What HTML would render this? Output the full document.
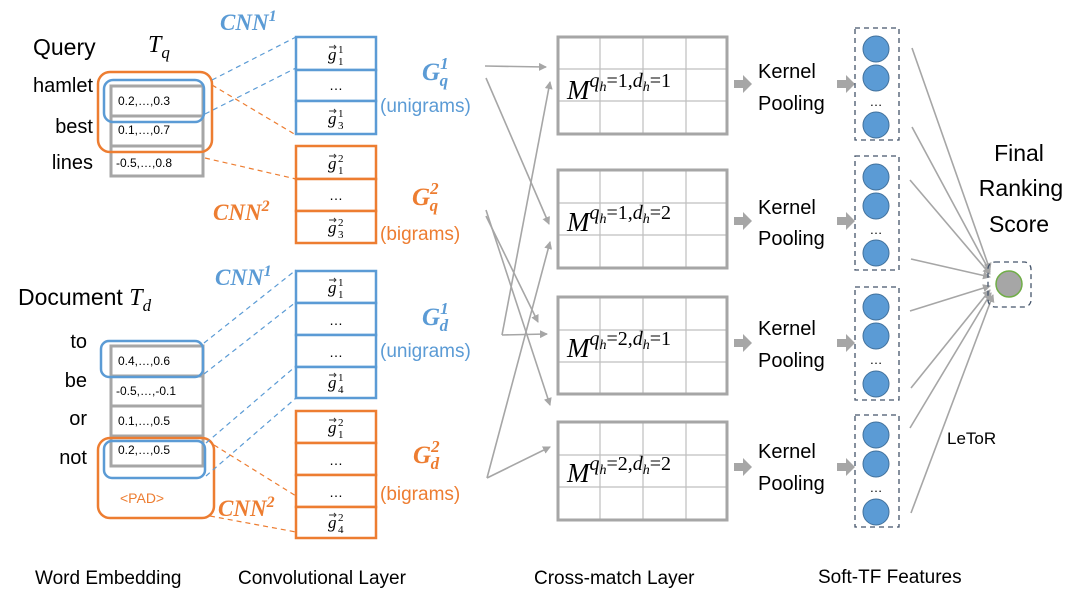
<!DOCTYPE html>
<html><head><meta charset="utf-8"><style>
html,body{margin:0;padding:0;background:#fff}
svg{display:block}
text{font-family:"Liberation Sans",sans-serif}
text.s,.s text{font-family:"Liberation Serif",serif;font-style:italic}
text.b,.b text{font-family:"Liberation Serif",serif;font-style:italic;font-weight:bold}
</style></head><body>
<svg width="1080" height="594" viewBox="0 0 1080 594" xmlns="http://www.w3.org/2000/svg">
<defs>
<marker id="a" markerWidth="8" markerHeight="8" refX="7" refY="4" orient="auto" markerUnits="userSpaceOnUse"><path d="M0,0 L8,4 L0,8 z" fill="#a6a6a6"/></marker>
</defs>

<text x="33" y="55" font-size="23">Query</text>
<text x="148" y="52" font-size="24" class="s">T<tspan font-size="17" dy="6">q</tspan></text>
<g font-size="20" text-anchor="end">
<text x="93" y="92">hamlet</text><text x="93" y="133">best</text><text x="93" y="169">lines</text>
</g>
<g fill="none" stroke="#a6a6a6" stroke-width="3">
<rect x="111" y="86" width="92" height="30"/><rect x="111" y="116" width="92" height="30"/><rect x="111" y="146" width="92" height="30"/>
</g>
<g font-size="12"><text x="118" y="105">0.2,…,0.3</text><text x="118" y="134">0.1,…,0.7</text><text x="116" y="167">-0.5,…,0.8</text></g>
<rect x="98" y="72" width="114" height="80" rx="12" fill="none" stroke="#ed7d31" stroke-width="2.5"/>
<rect x="104" y="80" width="100" height="42" rx="9" fill="none" stroke="#5b9bd5" stroke-width="2.5"/>

<g stroke-dasharray="5,4" stroke-width="1.2" fill="none">
<line x1="212" y1="80" x2="296" y2="37" stroke="#5b9bd5"/>
<line x1="205" y1="114" x2="296" y2="68" stroke="#5b9bd5"/>
<line x1="212" y1="85" x2="296" y2="135" stroke="#ed7d31"/>
<line x1="205" y1="158" x2="296" y2="179" stroke="#ed7d31"/>
</g>

<text x="220" y="30" font-size="23" class="b" fill="#5b9bd5">CNN<tspan font-size="16" dy="-9">1</tspan></text>
<g fill="#fff" stroke="#5b9bd5" stroke-width="2.5">
<rect x="296" y="37" width="80" height="33"/><rect x="296" y="70" width="80" height="31"/><rect x="296" y="101" width="80" height="33"/>
</g>
<text x="213" y="220" font-size="23" class="b" fill="#ed7d31">CNN<tspan font-size="16" dy="-9">2</tspan></text>
<g fill="#fff" stroke="#ed7d31" stroke-width="2.5">
<rect x="296" y="146" width="80" height="33"/><rect x="296" y="179" width="80" height="32"/><rect x="296" y="211" width="80" height="32"/>
</g>

<text x="18" y="305" font-size="23">Document <tspan font-family="Liberation Serif" font-style="italic" font-size="24">T</tspan><tspan font-family="Liberation Serif" font-style="italic" font-size="17" dy="6">d</tspan></text>
<g font-size="20" text-anchor="end">
<text x="87" y="348">to</text><text x="87" y="387">be</text><text x="87" y="425">or</text><text x="87" y="464">not</text>
</g>
<g fill="none" stroke="#a6a6a6" stroke-width="3">
<rect x="111" y="346" width="92" height="30"/><rect x="111" y="376" width="92" height="30"/><rect x="111" y="406" width="92" height="30"/><rect x="111" y="436" width="92" height="30"/>
</g>
<g font-size="12"><text x="118" y="365">0.4,…,0.6</text><text x="116" y="395">-0.5,…,-0.1</text><text x="118" y="425">0.1,…,0.5</text><text x="118" y="454">0.2,…,0.5</text></g>
<rect x="98" y="438" width="116" height="80" rx="12" fill="none" stroke="#ed7d31" stroke-width="2.5"/>
<rect x="101" y="341" width="102" height="36" rx="8" fill="none" stroke="#5b9bd5" stroke-width="2.5"/>
<rect x="104" y="441" width="101" height="37" rx="8" fill="none" stroke="#5b9bd5" stroke-width="2.5"/>
<text x="120" y="503" font-size="14" fill="#ed7d31">&lt;PAD&gt;</text>

<g stroke-dasharray="5,4" stroke-width="1.2" fill="none">
<line x1="204" y1="343" x2="296" y2="270" stroke="#5b9bd5"/>
<line x1="204" y1="374" x2="296" y2="302" stroke="#5b9bd5"/>
<line x1="206" y1="443" x2="296" y2="366" stroke="#5b9bd5"/>
<line x1="206" y1="476" x2="296" y2="398" stroke="#5b9bd5"/>
<line x1="214" y1="445" x2="296" y2="496" stroke="#ed7d31"/>
<line x1="210" y1="516" x2="296" y2="532" stroke="#ed7d31"/>
</g>

<text x="215" y="285" font-size="23" class="b" fill="#5b9bd5">CNN<tspan font-size="16" dy="-9">1</tspan></text>
<g fill="#fff" stroke="#5b9bd5" stroke-width="2.5">
<rect x="296" y="271" width="80" height="32"/><rect x="296" y="303" width="80" height="32"/><rect x="296" y="335" width="80" height="32"/><rect x="296" y="367" width="80" height="31"/>
</g>
<text x="218" y="516" font-size="23" class="b" fill="#ed7d31">CNN<tspan font-size="16" dy="-9">2</tspan></text>
<g fill="#fff" stroke="#ed7d31" stroke-width="2.5">
<rect x="296" y="411" width="80" height="32"/><rect x="296" y="443" width="80" height="32"/><rect x="296" y="475" width="80" height="32"/><rect x="296" y="507" width="80" height="31"/>
</g>

<!-- g vectors -->
<g class="s" font-size="17">
<text x="328" y="60">g<tspan x="338" y="53" font-size="11" font-style="normal">1</tspan><tspan x="338" y="65" font-size="11" font-style="normal">1</tspan></text>
<text x="328" y="124">g<tspan x="338" y="117" font-size="11" font-style="normal">1</tspan><tspan x="338" y="129" font-size="11" font-style="normal">3</tspan></text>
<text x="328" y="169">g<tspan x="338" y="162" font-size="11" font-style="normal">2</tspan><tspan x="338" y="174" font-size="11" font-style="normal">1</tspan></text>
<text x="328" y="233">g<tspan x="338" y="226" font-size="11" font-style="normal">2</tspan><tspan x="338" y="238" font-size="11" font-style="normal">3</tspan></text>
<text x="328" y="293">g<tspan x="338" y="286" font-size="11" font-style="normal">1</tspan><tspan x="338" y="298" font-size="11" font-style="normal">1</tspan></text>
<text x="328" y="388">g<tspan x="338" y="381" font-size="11" font-style="normal">1</tspan><tspan x="338" y="393" font-size="11" font-style="normal">4</tspan></text>
<text x="328" y="433">g<tspan x="338" y="426" font-size="11" font-style="normal">2</tspan><tspan x="338" y="438" font-size="11" font-style="normal">1</tspan></text>
<text x="328" y="528">g<tspan x="338" y="521" font-size="11" font-style="normal">2</tspan><tspan x="338" y="533" font-size="11" font-style="normal">4</tspan></text>
</g>
<g stroke="#333" stroke-width="0.9" fill="none">
<path d="M329,47h7m-2,-2l2,2l-2,2"/><path d="M329,111h7m-2,-2l2,2l-2,2"/>
<path d="M329,156h7m-2,-2l2,2l-2,2"/><path d="M329,220h7m-2,-2l2,2l-2,2"/>
<path d="M329,280h7m-2,-2l2,2l-2,2"/><path d="M329,375h7m-2,-2l2,2l-2,2"/>
<path d="M329,420h7m-2,-2l2,2l-2,2"/><path d="M329,515h7m-2,-2l2,2l-2,2"/>
</g>
<g font-size="14" text-anchor="middle">
<text x="336" y="90">…</text><text x="336" y="200">…</text><text x="336" y="325">…</text><text x="336" y="357">…</text><text x="336" y="465">…</text><text x="336" y="497">…</text>
</g>

<text x="422" y="80" font-size="25" class="b" fill="#5b9bd5">G<tspan font-size="17" dy="-11">1</tspan><tspan font-size="17" dx="-9" dy="17">q</tspan></text>
<text x="380" y="112" font-size="19" fill="#5b9bd5">(unigrams)</text>
<text x="412" y="205" font-size="25" class="b" fill="#ed7d31">G<tspan font-size="17" dy="-11">2</tspan><tspan font-size="17" dx="-9" dy="17">q</tspan></text>
<text x="380" y="240" font-size="19" fill="#ed7d31">(bigrams)</text>
<text x="422" y="325" font-size="25" class="b" fill="#5b9bd5">G<tspan font-size="17" dy="-11">1</tspan><tspan font-size="17" dx="-9" dy="17">d</tspan></text>
<text x="380" y="357" font-size="19" fill="#5b9bd5">(unigrams)</text>
<text x="413" y="463" font-size="25" class="b" fill="#ed7d31">G<tspan font-size="17" dy="-11">2</tspan><tspan font-size="17" dx="-9" dy="17">d</tspan></text>
<text x="380" y="500" font-size="19" fill="#ed7d31">(bigrams)</text>

<g stroke="#a6a6a6" stroke-width="1.6" fill="none" marker-end="url(#a)">
<line x1="485" y1="66" x2="546" y2="67"/>
<line x1="486" y1="78" x2="549" y2="224"/>
<line x1="486" y1="216" x2="538" y2="322"/>
<line x1="486" y1="210" x2="550" y2="405"/>
<polyline points="502,335 550,82"/>
<line x1="502" y1="335" x2="547" y2="334"/>
<line x1="487" y1="478" x2="550" y2="242"/>
<line x1="487" y1="478" x2="550" y2="447"/>
</g>

<g stroke="#bfbfbf" stroke-width="1.2">
<path d="M600,37V134M643,37V134M686,37V134M558,69H727M558,101H727"/>
<path d="M600,170V268M643,170V268M686,170V268M558,203H727M558,235H727"/>
<path d="M600,297V394M643,297V394M686,297V394M558,330H727M558,362H727"/>
<path d="M600,422V520M643,422V520M686,422V520M558,455H727M558,487H727"/>
</g>
<g fill="none" stroke="#a6a6a6" stroke-width="3">
<rect x="558" y="37" width="169" height="97"/><rect x="558" y="170" width="169" height="98"/><rect x="558" y="297" width="169" height="97"/><rect x="558" y="422" width="169" height="98"/>
</g>
<g font-size="27" class="s">
<text x="567" y="99">M<tspan font-size="20" dy="-12">q<tspan font-size="14" dy="4">h</tspan><tspan font-style="normal" dy="-4">=1,</tspan>d<tspan font-size="14" dy="4">h</tspan><tspan font-style="normal" dy="-4">=1</tspan></tspan></text>
<text x="567" y="231">M<tspan font-size="20" dy="-12">q<tspan font-size="14" dy="4">h</tspan><tspan font-style="normal" dy="-4">=1,</tspan>d<tspan font-size="14" dy="4">h</tspan><tspan font-style="normal" dy="-4">=2</tspan></tspan></text>
<text x="567" y="357">M<tspan font-size="20" dy="-12">q<tspan font-size="14" dy="4">h</tspan><tspan font-style="normal" dy="-4">=2,</tspan>d<tspan font-size="14" dy="4">h</tspan><tspan font-style="normal" dy="-4">=1</tspan></tspan></text>
<text x="567" y="482">M<tspan font-size="20" dy="-12">q<tspan font-size="14" dy="4">h</tspan><tspan font-style="normal" dy="-4">=2,</tspan>d<tspan font-size="14" dy="4">h</tspan><tspan font-style="normal" dy="-4">=2</tspan></tspan></text>
</g>

<g fill="#a6a6a6">
<path d="M734,80h9v-5l9,9l-9,9v-5h-9z"/><path d="M837,80h9v-5l9,9l-9,9v-5h-9z"/>
<path d="M734,217h9v-5l9,9l-9,9v-5h-9z"/><path d="M837,217h9v-5l9,9l-9,9v-5h-9z"/>
<path d="M734,339h9v-5l9,9l-9,9v-5h-9z"/><path d="M837,339h9v-5l9,9l-9,9v-5h-9z"/>
<path d="M734,463h9v-5l9,9l-9,9v-5h-9z"/><path d="M837,463h9v-5l9,9l-9,9v-5h-9z"/>
</g>
<g font-size="20">
<text x="758" y="78">Kernel</text><text x="758" y="110">Pooling</text>
<text x="758" y="214">Kernel</text><text x="758" y="245">Pooling</text>
<text x="758" y="335">Kernel</text><text x="758" y="367">Pooling</text>
<text x="758" y="458">Kernel</text><text x="758" y="490">Pooling</text>
</g>

<g fill="none" stroke="#44546a" stroke-width="1.3" stroke-dasharray="5,4">
<rect x="855" y="28" width="44" height="112"/><rect x="855" y="156" width="44" height="114"/><rect x="855" y="287" width="44" height="113"/><rect x="855" y="415" width="44" height="112"/>
</g>
<g fill="#5b9bd5" stroke="#41719c" stroke-width="1">
<circle cx="876" cy="49" r="13"/><circle cx="876" cy="78" r="13"/><circle cx="876" cy="125" r="13"/>
<circle cx="876" cy="177" r="13"/><circle cx="876" cy="206" r="13"/><circle cx="876" cy="253" r="13"/>
<circle cx="876" cy="307" r="13"/><circle cx="876" cy="336" r="13"/><circle cx="876" cy="384" r="13"/>
<circle cx="876" cy="435" r="13"/><circle cx="876" cy="464" r="13"/><circle cx="876" cy="512" r="13"/>
</g>
<g font-size="13" text-anchor="middle"><text x="876" y="106">…</text><text x="876" y="234">…</text><text x="876" y="364">…</text><text x="876" y="492">…</text></g>

<g stroke="#a6a6a6" stroke-width="1.6" fill="none" marker-end="url(#a)">
<line x1="912" y1="48" x2="990" y2="270"/>
<line x1="912" y1="127" x2="990" y2="272"/>
<line x1="910" y1="180" x2="990" y2="274"/>
<line x1="911" y1="259" x2="990" y2="277"/>
<line x1="910" y1="311" x2="990" y2="286"/>
<line x1="911" y1="388" x2="990" y2="290"/>
<line x1="910" y1="428" x2="991" y2="293"/>
<line x1="911" y1="513" x2="993" y2="295"/>
</g>
<rect x="988" y="262" width="43" height="45" rx="7" fill="none" stroke="#44546a" stroke-width="1.3" stroke-dasharray="5,4"/>
<circle cx="1009" cy="284" r="13" fill="#a6a6a6" stroke="#70ad47" stroke-width="1.5"/>
<g font-size="23" text-anchor="middle"><text x="1019" y="161">Final</text><text x="1021" y="196">Ranking</text><text x="1019" y="232">Score</text></g>
<text x="947" y="444" font-size="17">LeToR</text>

<g font-size="19">
<text x="35" y="584">Word Embedding</text>
<text x="238" y="584">Convolutional Layer</text>
<text x="534" y="584">Cross-match Layer</text>
<text x="818" y="583">Soft-TF Features</text>
</g>
</svg>
</body></html>
